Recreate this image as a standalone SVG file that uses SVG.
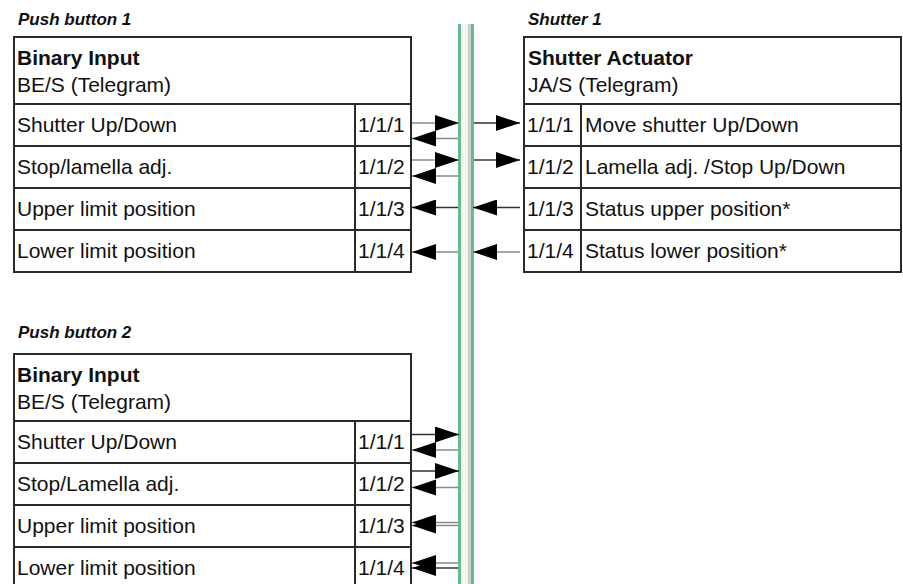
<svg xmlns="http://www.w3.org/2000/svg" width="903" height="584" viewBox="0 0 903 584">
<style>
text{font-family:"Liberation Sans",Arial,Helvetica,sans-serif;font-size:21px;fill:#111}
.t{font-weight:bold;font-style:italic;font-size:17px}
.h{font-weight:bold}
.box{fill:#fff;stroke:#2a2a2a;stroke-width:2}
.div{stroke:#2a2a2a;stroke-width:2}
.ln{stroke:#333;stroke-width:1.3;fill:none;marker-end:url(#ah)}
.lg{stroke:#888;stroke-width:1.3;fill:none;marker-end:url(#ah)}
</style>
<defs>
<marker id="ah" markerUnits="userSpaceOnUse" markerWidth="24" markerHeight="16" viewBox="0 0 24 16" refX="24" refY="8" orient="auto">
<path d="M0,0 L24,8 L0,16 z" fill="#000"/>
</marker>
</defs>
<rect width="903" height="584" fill="#fff"/>
<g id="bus">
<rect x="458" y="24" width="3" height="560" fill="#68bb8e"/>
<rect x="461" y="24" width="7" height="560" fill="#f4f4f1"/>
<rect x="468" y="24" width="3" height="560" fill="#cdd0cb"/>
<rect x="471" y="24" width="3" height="560" fill="#68bb8e"/>
</g>
<g id="pushbutton1">
<text class="t" x="18" y="25">Push button 1</text>
<rect class="box" x="14" y="37" width="397" height="235"/>
<line class="div" x1="14" y1="104" x2="411" y2="104"/>
<line class="div" x1="14" y1="146" x2="411" y2="146"/>
<line class="div" x1="14" y1="188" x2="411" y2="188"/>
<line class="div" x1="14" y1="230" x2="411" y2="230"/>
<line class="div" x1="355" y1="104" x2="355" y2="272"/>
<text class="h" x="17" y="65">Binary Input</text>
<text x="17" y="92">BE/S (Telegram)</text>
<text x="17" y="132">Shutter Up/Down</text>
<text x="17" y="174">Stop/lamella adj.</text>
<text x="17" y="216">Upper limit position</text>
<text x="17" y="258">Lower limit position</text>
<text x="358" y="132">1/1/1</text>
<text x="358" y="174">1/1/2</text>
<text x="358" y="216">1/1/3</text>
<text x="358" y="258">1/1/4</text>
</g>
<g id="shutter1">
<text class="t" x="528" y="25">Shutter 1</text>
<rect class="box" x="524" y="37" width="377" height="235"/>
<line class="div" x1="524" y1="104" x2="901" y2="104"/>
<line class="div" x1="524" y1="146" x2="901" y2="146"/>
<line class="div" x1="524" y1="188" x2="901" y2="188"/>
<line class="div" x1="524" y1="230" x2="901" y2="230"/>
<line class="div" x1="581" y1="104" x2="581" y2="272"/>
<text class="h" x="528" y="65">Shutter Actuator</text>
<text x="528" y="92">JA/S (Telegram)</text>
<text x="527" y="132">1/1/1</text>
<text x="527" y="174">1/1/2</text>
<text x="527" y="216">1/1/3</text>
<text x="527" y="258">1/1/4</text>
<text x="585" y="132">Move shutter Up/Down</text>
<text x="585" y="174">Lamella adj. /Stop Up/Down</text>
<text x="585" y="216">Status upper position*</text>
<text x="585" y="258">Status lower position*</text>
</g>
<g id="pushbutton2">
<text class="t" x="18" y="338">Push button 2</text>
<rect class="box" x="14" y="354" width="397" height="240"/>
<line class="div" x1="14" y1="421" x2="411" y2="421"/>
<line class="div" x1="14" y1="463" x2="411" y2="463"/>
<line class="div" x1="14" y1="505" x2="411" y2="505"/>
<line class="div" x1="14" y1="547" x2="411" y2="547"/>
<line class="div" x1="355" y1="421" x2="355" y2="594"/>
<text class="h" x="17" y="382">Binary Input</text>
<text x="17" y="409">BE/S (Telegram)</text>
<text x="17" y="449">Shutter Up/Down</text>
<text x="17" y="491">Stop/Lamella adj.</text>
<text x="17" y="533">Upper limit position</text>
<text x="17" y="575">Lower limit position</text>
<text x="358" y="449">1/1/1</text>
<text x="358" y="491">1/1/2</text>
<text x="358" y="533">1/1/3</text>
<text x="358" y="575">1/1/4</text>
</g>
<g id="connectors">
<line class="lg" x1="412" y1="123" x2="459" y2="123"/>
<line class="lg" x1="458" y1="138.5" x2="412" y2="138.5"/>
<line class="lg" x1="412" y1="160" x2="459" y2="160"/>
<line class="lg" x1="458" y1="176" x2="412" y2="176"/>
<line class="ln" x1="458" y1="207.5" x2="412" y2="207.5"/>
<line class="lg" x1="458" y1="252" x2="412" y2="252"/>
<line class="ln" x1="474" y1="123" x2="520" y2="123"/>
<line class="ln" x1="474" y1="160" x2="520" y2="160"/>
<line class="ln" x1="520" y1="207.5" x2="473" y2="207.5"/>
<line class="lg" x1="520" y1="252" x2="473" y2="252"/>
<line class="ln" x1="412" y1="434.5" x2="459" y2="434.5"/>
<line class="lg" x1="458" y1="450" x2="412" y2="450"/>
<line class="ln" x1="412" y1="471" x2="459" y2="471"/>
<line class="lg" x1="458" y1="487.5" x2="412" y2="487.5"/>
<line class="lg" x1="458" y1="522.5" x2="412" y2="522.5"/>
<line class="lg" x1="458" y1="525.5" x2="412" y2="525.5"/>
<line class="lg" x1="458" y1="563" x2="412" y2="563"/>
<line class="ln" x1="458" y1="568" x2="412" y2="568"/>
</g>
</svg>
